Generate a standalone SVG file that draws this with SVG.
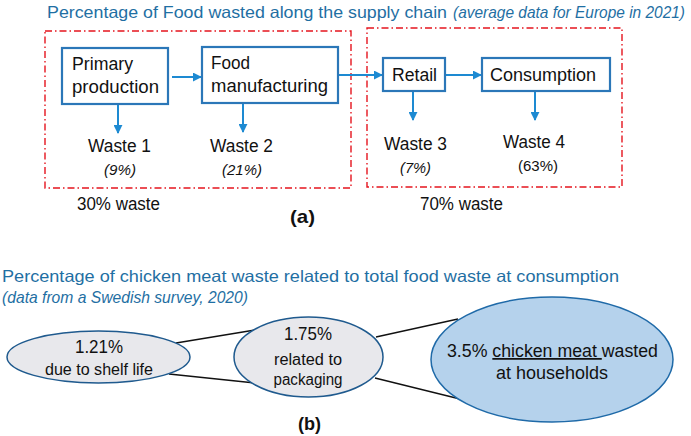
<svg xmlns="http://www.w3.org/2000/svg" width="691" height="436" viewBox="0 0 691 436">
<defs>
<marker id="ah" viewBox="0 0 10 10" refX="9" refY="5" markerWidth="4.5" markerHeight="4.5" orient="auto" markerUnits="strokeWidth"><path d="M0,0 L10,5 L0,10 z" fill="#1d8ad2"/></marker>
<style>
text{font-family:"Liberation Sans",Arial,sans-serif;fill:#111}
.title{fill:#1f6fa3;font-size:16.5px}
.box{fill:#fff;stroke:#2b77b8;stroke-width:2.2}
.grp{fill:none;stroke:#e5141e;stroke-width:1.4;stroke-dasharray:7,3,1.5,3}
.arr{stroke:#1d8ad2;stroke-width:2;fill:none;marker-end:url(#ah)}
.lbl{font-size:17.5px}
.pct{font-size:15.5px;font-style:italic}
.link{stroke:#111;stroke-width:1.3;fill:none}
.ell{fill:#e8e8ec;stroke:#1f5a8e;stroke-width:1.5}
</style>
</defs>
<text class="title" x="47" y="18" textLength="400" lengthAdjust="spacingAndGlyphs">Percentage of Food wasted along the supply chain</text>
<text class="title" x="453" y="18" font-style="italic" font-size="14" textLength="232" lengthAdjust="spacingAndGlyphs">(average data for Europe in 2021)</text>
<rect class="grp" x="45" y="31" width="306" height="157"/>
<rect class="grp" x="367" y="28" width="255" height="159"/>
<g id="connectors">
<line class="arr" x1="172" y1="77" x2="201" y2="77"/>
<line class="arr" x1="339" y1="75" x2="382" y2="75"/>
<line class="arr" x1="446" y1="75" x2="481" y2="75"/>
<line class="arr" x1="118" y1="105" x2="118" y2="133"/>
<line class="arr" x1="243" y1="104" x2="243" y2="132"/>
<line class="arr" x1="413" y1="92" x2="413" y2="120"/>
<line class="arr" x1="535" y1="92" x2="535" y2="120"/>
<line class="link" x1="176" y1="343" x2="255" y2="330"/>
<line class="link" x1="169" y1="374" x2="255" y2="383"/>
<line class="link" x1="376" y1="337" x2="458" y2="319"/>
<line class="link" x1="375" y1="378" x2="460" y2="399"/>
</g>
<g id="primary">
<rect class="box" x="62" y="48" width="106" height="56"/>
<text class="lbl" x="72" y="70" textLength="61" lengthAdjust="spacingAndGlyphs">Primary</text>
<text class="lbl" x="72" y="93" textLength="87" lengthAdjust="spacingAndGlyphs">production</text>
</g>
<g id="manufacturing">
<rect class="box" x="202" y="47" width="136" height="56"/>
<text class="lbl" x="211" y="69" textLength="39" lengthAdjust="spacingAndGlyphs">Food</text>
<text class="lbl" x="211" y="92" textLength="117" lengthAdjust="spacingAndGlyphs">manufacturing</text>
</g>
<g id="retail">
<rect class="box" x="383" y="58" width="62" height="33"/>
<text class="lbl" x="392" y="81" textLength="45" lengthAdjust="spacingAndGlyphs">Retail</text>
</g>
<g id="consumption">
<rect class="box" x="482" y="58" width="128" height="33"/>
<text class="lbl" x="490" y="81" textLength="106" lengthAdjust="spacingAndGlyphs">Consumption</text>
</g>
<g id="waste1">
<text class="lbl" x="88" y="152" textLength="63" lengthAdjust="spacingAndGlyphs">Waste 1</text>
<text class="pct" x="104" y="175" textLength="32" lengthAdjust="spacingAndGlyphs">(9%)</text>
</g>
<g id="waste2">
<text class="lbl" x="210" y="152" textLength="63" lengthAdjust="spacingAndGlyphs">Waste 2</text>
<text class="pct" x="222" y="175" textLength="40" lengthAdjust="spacingAndGlyphs">(21%)</text>
</g>
<g id="waste3">
<text class="lbl" x="384" y="150" textLength="63" lengthAdjust="spacingAndGlyphs">Waste 3</text>
<text class="pct" x="400" y="173" textLength="31" lengthAdjust="spacingAndGlyphs">(7%)</text>
</g>
<g id="waste4">
<text class="lbl" x="503" y="148" textLength="62" lengthAdjust="spacingAndGlyphs">Waste 4</text>
<text x="518" y="171" font-size="15.5" textLength="40" lengthAdjust="spacingAndGlyphs">(63%)</text>
</g>
<text class="lbl" x="77" y="210" textLength="83" lengthAdjust="spacingAndGlyphs">30% waste</text>
<text class="lbl" x="420" y="210" textLength="83" lengthAdjust="spacingAndGlyphs">70% waste</text>
<text x="290" y="223" font-size="19" font-weight="bold" textLength="25" lengthAdjust="spacingAndGlyphs">(a)</text>
<text class="title" x="2" y="282" font-size="17.5" textLength="617" lengthAdjust="spacingAndGlyphs">Percentage of chicken meat waste related to total food waste at consumption</text>
<text class="title" x="2" y="303" font-style="italic" font-size="15" textLength="246" lengthAdjust="spacingAndGlyphs">(data from a Swedish survey, 2020)</text>
<g id="shelf">
<ellipse class="ell" cx="98.5" cy="357" rx="91.5" ry="26"/>
<text x="99" y="353" font-size="17.5" text-anchor="middle" textLength="48" lengthAdjust="spacingAndGlyphs">1.21%</text>
<text x="99" y="375" font-size="16" text-anchor="middle" textLength="108" lengthAdjust="spacingAndGlyphs">due to shelf life</text>
</g>
<g id="packaging">
<ellipse class="ell" cx="308.5" cy="357" rx="74.5" ry="40"/>
<text x="308" y="340" font-size="17.5" text-anchor="middle" textLength="48" lengthAdjust="spacingAndGlyphs">1.75%</text>
<text x="308" y="365" font-size="16" text-anchor="middle" textLength="68" lengthAdjust="spacingAndGlyphs">related to</text>
<text x="308" y="385" font-size="16" text-anchor="middle" textLength="69" lengthAdjust="spacingAndGlyphs">packaging</text>
</g>
<g id="households">
<ellipse cx="552" cy="359.5" rx="121" ry="62.5" fill="#b5d2ec" stroke="#1f6aa8" stroke-width="1.5"/>
<text x="447" y="357" font-size="17.5" textLength="211" lengthAdjust="spacingAndGlyphs">3.5% <tspan text-decoration="underline">chicken meat </tspan>wasted</text>
<text x="552" y="379" font-size="17.5" text-anchor="middle" textLength="112" lengthAdjust="spacingAndGlyphs">at households</text>
</g>
<text x="298" y="430" font-size="19" font-weight="bold" textLength="23" lengthAdjust="spacingAndGlyphs">(b)</text>
</svg>
